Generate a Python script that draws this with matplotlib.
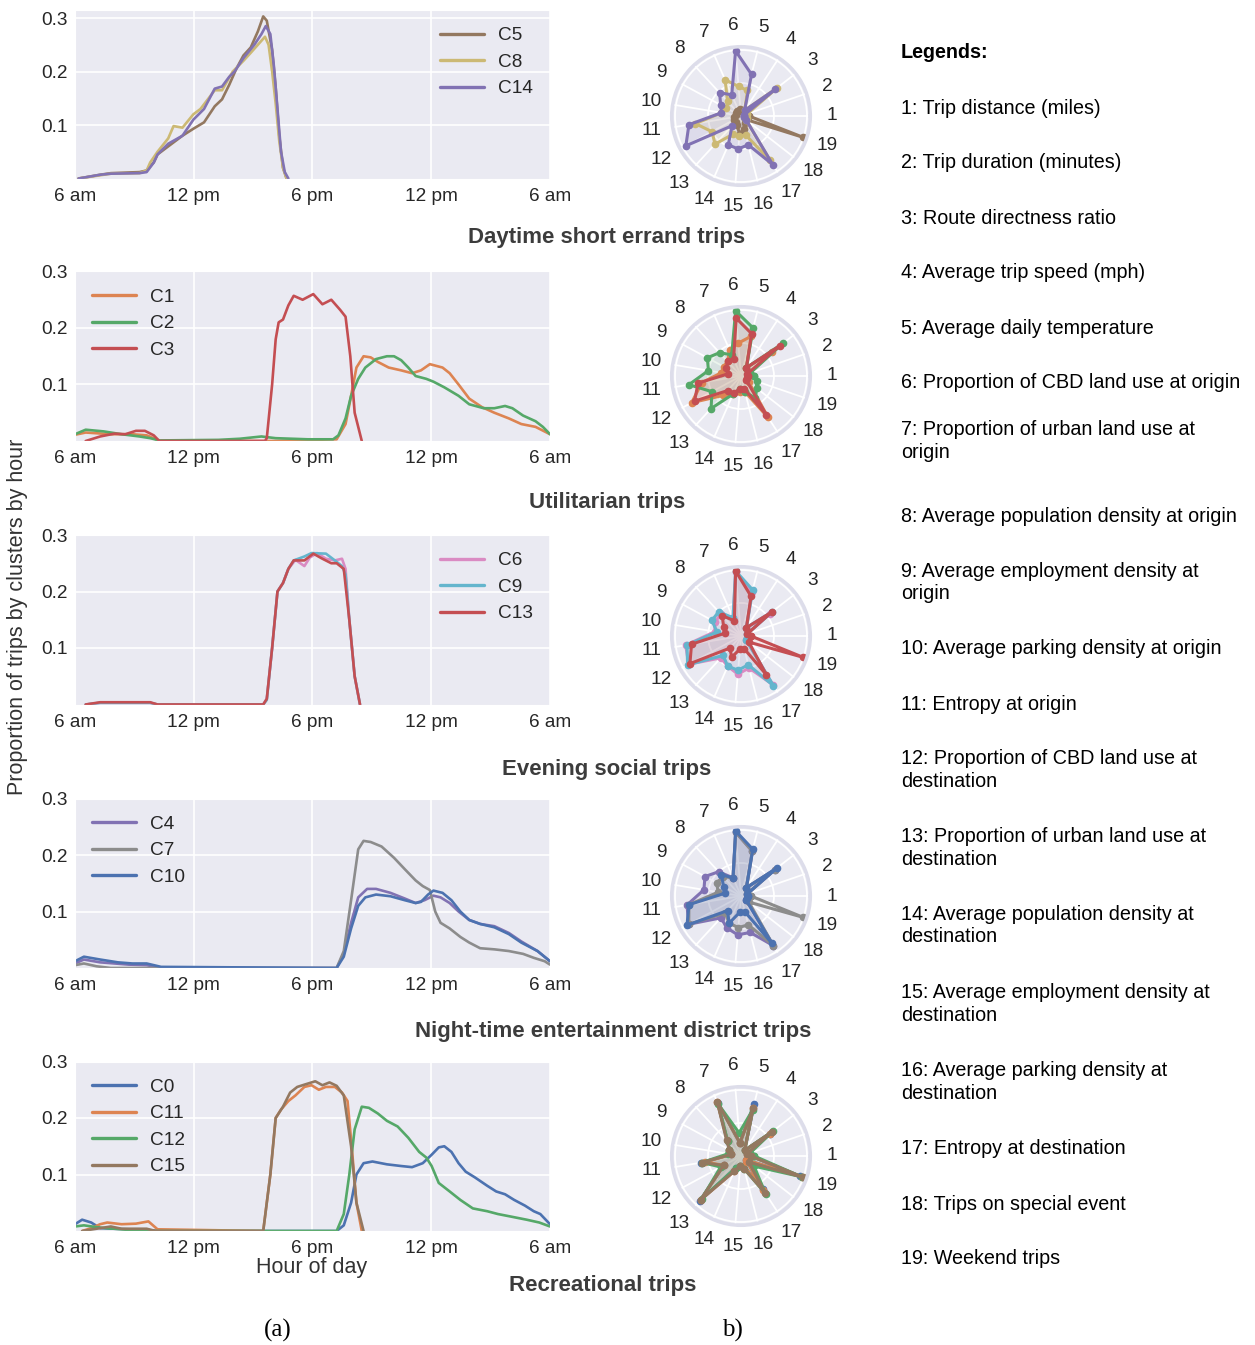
import numpy as np
import matplotlib
matplotlib.use("Agg")
import matplotlib.pyplot as plt
import seaborn as sns

sns.set_style("darkgrid")
plt.rcParams['font.family'] = ['Liberation Sans', 'DejaVu Sans']

W, H = 1255, 1345

# seaborn "deep" colours, clusters cycle after C9
DEEP = ['#4C72B0', '#DD8452', '#55A868', '#C44E52', '#8172B3',
        '#937860', '#DA8BC3', '#8C8C8C', '#CCB974', '#64B5CD']

def col(name):
    return DEEP[int(name[1:]) % 10]

# ---------------- hourly curves (hour of day, 6 = 6 am, 30 = 6 am next day)
hours = {}
vals = {}

# Daytime short errand trips
hours['C5'] = [6.18, 7.27, 7.81, 9.26, 9.62, 9.98, 10.17, 10.71, 11.43, 11.98, 12.52, 13.06, 13.43,
               13.79, 14.15, 14.51, 14.88, 15.24, 15.51, 15.69, 15.96, 16.14, 16.32, 16.51, 16.69]
vals['C5'] = [0.0, 0.007, 0.01, 0.012, 0.015, 0.03, 0.045, 0.06, 0.08, 0.093, 0.105, 0.135, 0.148,
              0.175, 0.205, 0.23, 0.245, 0.275, 0.303, 0.295, 0.24, 0.17, 0.08, 0.02, 0.0]
hours['C8'] = [6.18, 7.27, 7.81, 9.26, 9.62, 9.8, 10.17, 10.71, 10.98, 11.43, 11.98, 12.34, 13.06,
               13.43, 13.97, 14.51, 14.88, 15.24, 15.6, 15.78, 15.96, 16.14, 16.32, 16.51, 16.69]
vals['C8'] = [0.0, 0.006, 0.009, 0.01, 0.015, 0.03, 0.05, 0.075, 0.098, 0.095, 0.12, 0.13, 0.165,
              0.165, 0.2, 0.22, 0.235, 0.25, 0.265, 0.25, 0.2, 0.14, 0.07, 0.02, 0.0]
hours['C14'] = [6.18, 7.27, 7.81, 9.26, 9.62, 9.98, 10.17, 10.71, 11.43, 11.98, 12.52, 13.06, 13.43,
                13.79, 14.06, 14.51, 15.06, 15.42, 15.64, 15.87, 16.05, 16.23, 16.41, 16.6, 16.78]
vals['C14'] = [0.0, 0.007, 0.009, 0.01, 0.012, 0.03, 0.045, 0.065, 0.08, 0.11, 0.13, 0.168, 0.172,
               0.19, 0.2, 0.225, 0.25, 0.27, 0.285, 0.27, 0.21, 0.13, 0.05, 0.012, 0.0]

# Utilitarian trips
hours['C1'] = [6.0, 6.54, 7.81, 8.9, 9.62, 9.98, 10.26, 12.0, 16.0, 19.22, 19.67, 19.95, 20.22, 20.58,
               20.94, 21.3, 21.85, 22.48, 23.03, 23.48, 23.93, 24.57, 24.93, 25.38, 25.92, 26.56,
               27.19, 27.92, 28.55, 29.27, 30.0]
vals['C1'] = [0.011, 0.015, 0.012, 0.012, 0.01, 0.005, 0.0, 0.0, 0.0, 0.003, 0.03, 0.08, 0.13, 0.15,
              0.148, 0.14, 0.13, 0.125, 0.12, 0.125, 0.136, 0.13, 0.12, 0.1, 0.075, 0.06,
              0.05, 0.04, 0.03, 0.025, 0.012]
hours['C2'] = [6.0, 6.54, 7.45, 8.35, 9.26, 9.8, 10.26, 13.25, 14.33, 15.42, 16.14, 17.77, 19.04,
               19.31, 19.67, 19.95, 20.31, 20.67, 21.21, 21.76, 22.12, 22.48, 22.84, 23.21, 23.75,
               24.11, 24.66, 25.38, 25.92, 26.65, 27.19, 27.73, 28.1, 28.64, 29.27, 29.64, 30.0]
vals['C2'] = [0.012, 0.02, 0.017, 0.012, 0.008, 0.005, 0.001, 0.002, 0.004, 0.008, 0.005, 0.003, 0.003,
              0.01, 0.04, 0.08, 0.11, 0.13, 0.145, 0.15, 0.15, 0.143, 0.13, 0.115, 0.11,
              0.105, 0.095, 0.08, 0.065, 0.058, 0.058, 0.062, 0.058, 0.045, 0.035, 0.025, 0.012]
hours['C3'] = [6.54, 7.27, 7.99, 8.54, 9.08, 9.53, 9.98, 10.26, 15.6, 15.69, 15.96, 16.14, 16.29,
               16.51, 16.78, 17.05, 17.5, 18.04, 18.5, 18.95, 19.4, 19.67, 19.91, 20.13, 20.49]
vals['C3'] = [0.0, 0.008, 0.013, 0.012, 0.018, 0.018, 0.01, 0.0, 0.0, 0.005, 0.1, 0.18, 0.21,
              0.215, 0.24, 0.257, 0.25, 0.26, 0.242, 0.25, 0.232, 0.22, 0.15, 0.05, 0.0]

# Evening social trips
hours['C6'] = [6.54, 7.27, 9.8, 10.17, 15.51, 15.69, 15.96, 16.23, 16.51, 16.78, 17.14, 17.59, 17.86,
               18.23, 18.68, 19.13, 19.49, 19.67, 19.86, 20.13, 20.4]
vals['C6'] = [0.0, 0.003, 0.003, 0.0, 0.0, 0.01, 0.1, 0.2, 0.215, 0.24, 0.256, 0.245, 0.26,
              0.268, 0.258, 0.255, 0.258, 0.24, 0.15, 0.05, 0.0]
hours['C9'] = [6.54, 7.27, 9.8, 10.17, 15.51, 15.69, 15.96, 16.23, 16.51, 16.78, 17.05, 17.59, 17.95,
               18.68, 19.13, 19.49, 19.67, 19.86, 20.13, 20.4]
vals['C9'] = [0.0, 0.003, 0.003, 0.0, 0.0, 0.008, 0.1, 0.2, 0.215, 0.24, 0.255, 0.262, 0.268,
              0.267, 0.255, 0.245, 0.23, 0.15, 0.05, 0.0]
hours['C13'] = [6.54, 7.27, 8.5, 9.8, 10.17, 15.51, 15.69, 15.96, 16.23, 16.51, 16.78, 17.05, 17.59,
                18.04, 18.5, 18.95, 19.22, 19.58, 19.86, 20.13, 20.4]
vals['C13'] = [0.0, 0.004, 0.004, 0.004, 0.0, 0.0, 0.01, 0.1, 0.2, 0.215, 0.24, 0.255, 0.255,
               0.267, 0.258, 0.25, 0.25, 0.24, 0.15, 0.05, 0.0]

# Night-time entertainment district trips
hours['C4'] = [6.0, 6.45, 7.27, 8.72, 9.62, 10.35, 19.22, 19.58, 19.95, 20.31, 20.76, 21.21, 21.94,
               22.66, 23.21, 23.66, 24.11, 24.47, 24.93, 25.38, 25.92, 26.47, 27.19, 27.92, 28.55,
               29.37, 30.0]
vals['C4'] = [0.008, 0.015, 0.01, 0.006, 0.005, 0.0, 0.0, 0.025, 0.08, 0.125, 0.14, 0.14, 0.133,
              0.123, 0.115, 0.12, 0.128, 0.125, 0.115, 0.1, 0.085, 0.078, 0.074, 0.062, 0.047,
              0.03, 0.012]
hours['C7'] = [6.0, 6.45, 7.09, 7.81, 19.22, 19.58, 19.95, 20.31, 20.58, 20.94, 21.49, 22.12, 22.66,
               23.21, 23.57, 23.93, 24.2, 24.47, 24.93, 25.47, 25.92, 26.47, 27.19, 27.92, 28.64,
               29.18, 29.73, 30.0]
vals['C7'] = [0.005, 0.008, 0.003, 0.0, 0.0, 0.03, 0.12, 0.21, 0.225, 0.223, 0.215, 0.195, 0.175,
              0.155, 0.145, 0.138, 0.1, 0.08, 0.07, 0.055, 0.045, 0.035, 0.033, 0.03, 0.025,
              0.018, 0.012, 0.006]
hours['C10'] = [6.0, 6.45, 7.27, 8.17, 8.9, 9.62, 10.35, 19.22, 19.58, 19.95, 20.31, 20.67, 21.21,
                21.94, 22.66, 23.21, 23.48, 23.84, 24.11, 24.57, 25.02, 25.47, 25.92, 26.47, 27.19,
                27.92, 28.55, 29.37, 30.0]
vals['C10'] = [0.012, 0.02, 0.015, 0.01, 0.008, 0.008, 0.002, 0.0, 0.02, 0.07, 0.11, 0.125, 0.13,
               0.127, 0.12, 0.115, 0.117, 0.13, 0.137, 0.133, 0.12, 0.1, 0.085, 0.078, 0.072,
               0.06, 0.045, 0.03, 0.012]

# Recreational trips
hours['C0'] = [6.0, 6.36, 6.82, 7.27, 8.72, 9.62, 10.17, 19.22, 19.58, 19.95, 20.22, 20.58, 21.03,
               21.76, 22.48, 23.03, 23.57, 24.02, 24.38, 24.66, 25.02, 25.38, 25.74, 26.2, 26.83,
               27.28, 27.73, 28.19, 28.73, 29.18, 29.51, 30.0]
vals['C0'] = [0.012, 0.02, 0.015, 0.005, 0.003, 0.002, 0.0, 0.0, 0.01, 0.05, 0.1, 0.12, 0.123,
              0.118, 0.115, 0.113, 0.12, 0.135, 0.148, 0.15, 0.14, 0.12, 0.105, 0.095, 0.08,
              0.07, 0.065, 0.055, 0.045, 0.035, 0.03, 0.012]
hours['C11'] = [6.36, 6.82, 7.27, 7.63, 8.35, 9.08, 9.71, 10.17, 15.51, 15.87, 16.14, 16.41, 16.78,
                17.14, 17.59, 17.95, 18.32, 18.68, 19.13, 19.49, 19.77, 19.98, 20.22, 20.49]
vals['C11'] = [0.0, 0.005, 0.012, 0.015, 0.012, 0.013, 0.017, 0.003, 0.0, 0.1, 0.2, 0.215, 0.23,
               0.24, 0.255, 0.258, 0.25, 0.255, 0.255, 0.245, 0.23, 0.15, 0.05, 0.0]
hours['C12'] = [6.0, 6.45, 7.27, 8.35, 9.26, 19.22, 19.58, 19.86, 20.13, 20.49, 20.85, 21.3, 21.76,
                22.3, 22.84, 23.39, 23.75, 24.02, 24.38, 24.93, 25.47, 26.1, 26.83, 27.37, 28.1,
                28.82, 29.46, 30.0]
vals['C12'] = [0.008, 0.01, 0.006, 0.003, 0.0, 0.0, 0.03, 0.1, 0.18, 0.22, 0.218, 0.208, 0.195,
               0.185, 0.165, 0.14, 0.13, 0.115, 0.085, 0.07, 0.055, 0.04, 0.035, 0.03, 0.025,
               0.02, 0.015, 0.008]
hours['C15'] = [6.36, 7.27, 7.81, 8.35, 9.62, 10.08, 15.51, 15.87, 16.14, 16.51, 16.87, 17.23, 17.68,
                18.14, 18.5, 18.86, 19.22, 19.58, 19.95, 20.22, 20.58]
vals['C15'] = [0.0, 0.005, 0.008, 0.004, 0.004, 0.0, 0.0, 0.1, 0.2, 0.22, 0.245, 0.255, 0.26,
               0.265, 0.258, 0.263, 0.257, 0.24, 0.15, 0.05, 0.0]

# ---------------- radar profiles (19 normalised variables per cluster)
radar = {
    'C5':  [0.12, 0.08, 0.1, 0.08, 0.1, 0.1, 0.08, 0.1, 0.08, 0.08, 0.1, 0.12, 0.12, 0.15, 0.27, 0.2, 0.12, 0.08, 1.0],
    'C8':  [0.05, 0.1, 0.7, 0.1, 0.4, 0.45, 0.6, 0.3, 0.25, 0.3, 0.7, 0.5, 0.58, 0.3, 0.3, 0.3, 0.8, 0.1, 0.1],
    'C14': [0.05, 0.05, 0.66, 0.1, 0.65, 0.99, 0.35, 0.48, 0.35, 0.3, 0.8, 0.95, 0.2, 0.48, 0.5, 0.45, 0.88, 0.1, 0.05],
    'C1':  [0.1, 0.15, 0.6, 0.15, 0.62, 0.5, 0.43, 0.3, 0.3, 0.3, 0.6, 0.85, 0.4, 0.3, 0.25, 0.25, 0.75, 0.15, 0.1],
    'C2':  [0.2, 0.15, 0.81, 0.15, 0.75, 0.99, 0.35, 0.48, 0.58, 0.5, 0.8, 0.5, 0.67, 0.3, 0.2, 0.25, 0.4, 0.3, 0.25],
    'C3':  [0.1, 0.1, 0.75, 0.15, 0.66, 0.88, 0.28, 0.3, 0.25, 0.2, 0.66, 0.8, 0.3, 0.28, 0.2, 0.2, 0.7, 0.1, 0.1],
    'C6':  [0.1, 0.1, 0.55, 0.15, 0.68, 0.97, 0.3, 0.45, 0.45, 0.4, 0.85, 0.9, 0.45, 0.5, 0.58, 0.5, 0.88, 0.1, 0.1],
    'C9':  [0.1, 0.1, 0.6, 0.15, 0.72, 0.99, 0.3, 0.5, 0.5, 0.37, 0.83, 0.92, 0.4, 0.5, 0.52, 0.45, 0.9, 0.1, 0.1],
    'C13': [0.15, 0.1, 0.6, 0.15, 0.62, 0.99, 0.25, 0.42, 0.3, 0.25, 0.76, 0.88, 0.25, 0.35, 0.2, 0.2, 0.7, 0.15, 1.0],
    'C4':  [0.1, 0.1, 0.65, 0.15, 0.7, 0.97, 0.3, 0.5, 0.62, 0.57, 0.83, 0.9, 0.45, 0.53, 0.59, 0.57, 0.9, 0.1, 0.1],
    'C7':  [0.15, 0.1, 0.65, 0.15, 0.7, 0.97, 0.3, 0.4, 0.42, 0.35, 0.8, 0.9, 0.35, 0.45, 0.48, 0.45, 0.9, 0.15, 1.0],
    'C10': [0.1, 0.1, 0.7, 0.15, 0.73, 0.99, 0.3, 0.44, 0.3, 0.25, 0.8, 0.93, 0.3, 0.45, 0.25, 0.25, 0.85, 0.1, 0.1],
    'C0':  [0.15, 0.1, 0.55, 0.1, 0.82, 0.2, 0.88, 0.3, 0.2, 0.15, 0.62, 0.3, 0.92, 0.2, 0.15, 0.15, 0.6, 0.1, 0.95],
    'C11': [0.15, 0.1, 0.55, 0.1, 0.75, 0.2, 0.9, 0.3, 0.2, 0.15, 0.55, 0.3, 0.9, 0.25, 0.15, 0.15, 0.62, 0.1, 0.97],
    'C12': [0.2, 0.15, 0.62, 0.1, 0.72, 0.35, 0.86, 0.3, 0.2, 0.2, 0.6, 0.35, 0.88, 0.2, 0.15, 0.2, 0.68, 0.25, 0.97],
    'C15': [0.15, 0.1, 0.6, 0.1, 0.75, 0.2, 0.9, 0.32, 0.2, 0.15, 0.6, 0.3, 0.9, 0.25, 0.15, 0.2, 0.67, 0.15, 1.0],
}

groups = [['C5', 'C8', 'C14'], ['C1', 'C2', 'C3'], ['C6', 'C9', 'C13'],
          ['C4', 'C7', 'C10'], ['C0', 'C11', 'C12', 'C15']]
titles = ['Daytime short errand trips', 'Utilitarian trips', 'Evening social trips',
          'Night-time entertainment district trips', 'Recreational trips']
legend_loc = ['upper right', 'upper left', 'upper right', 'upper left', 'upper left']

tick_hours = [6, 12, 18, 24, 30]
tick_names = ['6 am', '12 pm', '6 pm', '12 pm', '6 am']

legend_lines = [
    '1: Trip distance (miles)', '2: Trip duration (minutes)', '3: Route directness ratio',
    '4: Average trip speed (mph)', '5: Average daily temperature',
    '6: Proportion of CBD land use at origin', '7: Proportion of urban land use at\norigin',
    '8: Average population density at origin', '9: Average employment density at\norigin',
    '10: Average parking density at origin', '11: Entropy at origin',
    '12: Proportion of CBD land use at\ndestination', '13: Proportion of urban land use at\ndestination',
    '14: Average population density at\ndestination', '15: Average employment density at\ndestination',
    '16: Average parking density at\ndestination', '17: Entropy at destination',
    '18: Trips on special event', '19: Weekend trips',
]
legend_y = [108, 163, 218, 273, 328, 383, 430, 516, 571, 649, 704, 759, 837, 914, 993, 1071, 1149, 1204, 1259]


def rect(left, top, w, h):
    return [left / W, 1 - (top + h) / H, w / W, h / H]


fig = plt.figure(figsize=(W / 100, H / 100), dpi=100)
FS = 13.7

# ---------- left column: hourly profiles
tops = [10, 271.5, 535, 798.5, 1061.5]
heights = [168.5, 169.5, 169.5, 169.5, 169.5]
ytops = [0.315, 0.3, 0.3, 0.3, 0.3]
for i, grp in enumerate(groups):
    ax = fig.add_axes(rect(75, tops[i], 475, heights[i]))
    for c in grp:
        ax.plot(hours[c], vals[c], color=col(c), lw=1.9, label=c)
    ax.set_xlim(6, 30)
    ax.set_ylim(0, ytops[i])
    ax.set_xticks(tick_hours)
    ax.set_xticklabels(tick_names)
    ax.set_yticks([0.1, 0.2, 0.3])
    ax.set_yticklabels(['0.1', '0.2', '0.3'])
    ax.tick_params(labelsize=FS, pad=5, colors='#262626', length=0)
    ax.tick_params(axis='x', pad=6.5)
    ax.grid(color='white', lw=1.2)
    leg = ax.legend(loc=legend_loc[i], frameon=False, fontsize=FS, handlelength=2.3,
                    handletextpad=0.75, labelspacing=0.48)
    for ln in leg.get_lines():
        ln.set_linewidth(2.4)
    fig.text([607, 607, 607, 613, 603][i] / W, 1 - [237, 503, 769, 1031, 1285][i] / H, titles[i],
             ha='center', va='center', fontsize=16, fontweight='bold', color='#3c3c3c')

fig.text(18 / W, 1 - 617 / H, 'Proportion of trips by clusters by hour', rotation=90,
         ha='center', va='center', fontsize=15.5, color='#333333')
fig.text(312 / W, 1 - 1268 / H, 'Hour of day', ha='center', va='center', fontsize=15.5, color='#333333')

# ---------- middle column: radar charts
n_var = 19
angles = [2 * np.pi * k / n_var for k in range(n_var)]
R = 66
for i, grp in enumerate(groups):
    cy = 116 + 260 * i
    cx = 741
    half = R * 1.05
    ax = fig.add_axes(rect(cx - half, cy - half, 2 * half, 2 * half), projection='polar')
    ax.set_facecolor('#EAEAF2')
    ax.set_ylim(0, 1.05)
    ax.set_yticks([0.5, 1.0])
    ax.set_yticklabels([])
    ax.set_xticks(angles)
    ax.set_xticklabels([])
    ax.grid(color='white', lw=1.3)
    ax.spines['polar'].set_color('#DDDDEA')
    ax.spines['polar'].set_linewidth(2.5)
    for c in grp:
        a = angles + [angles[0]]
        v = radar[c] + [radar[c][0]]
        ax.fill(a, v, color=col(c), alpha=0.12, lw=0)
        ax.plot(a, v, color=col(c), lw=2.2, marker='o', ms=4.5)
    for k, ang in enumerate(angles):
        ax.text(ang, 1.38, str(k + 1), ha='center', va='center', fontsize=FS,
                color='#262626', clip_on=False)

# ---------- right column: variable legend
fig.text(901 / W, 1 - 53 / H, 'Legends:', ha='left', va='center', fontsize=14.2,
         fontweight='bold', color='black')
for txt, y in zip(legend_lines, legend_y):
    for j, part in enumerate(txt.split('\n')):
        fig.text(901 / W, 1 - (y + 22.5 * j) / H, part, ha='left', va='center',
                 fontsize=14.2, color='black')

fig.text(278 / W, 1 - 1330 / H, '(a)', ha='center', va='center', fontsize=18,
         family=['Liberation Serif', 'DejaVu Serif'], color='black')
fig.text(732 / W, 1 - 1330 / H, 'b)', ha='center', va='center', fontsize=18,
         family=['Liberation Serif', 'DejaVu Serif'], color='black')

fig.savefig('out.png', dpi=100, facecolor='white')
